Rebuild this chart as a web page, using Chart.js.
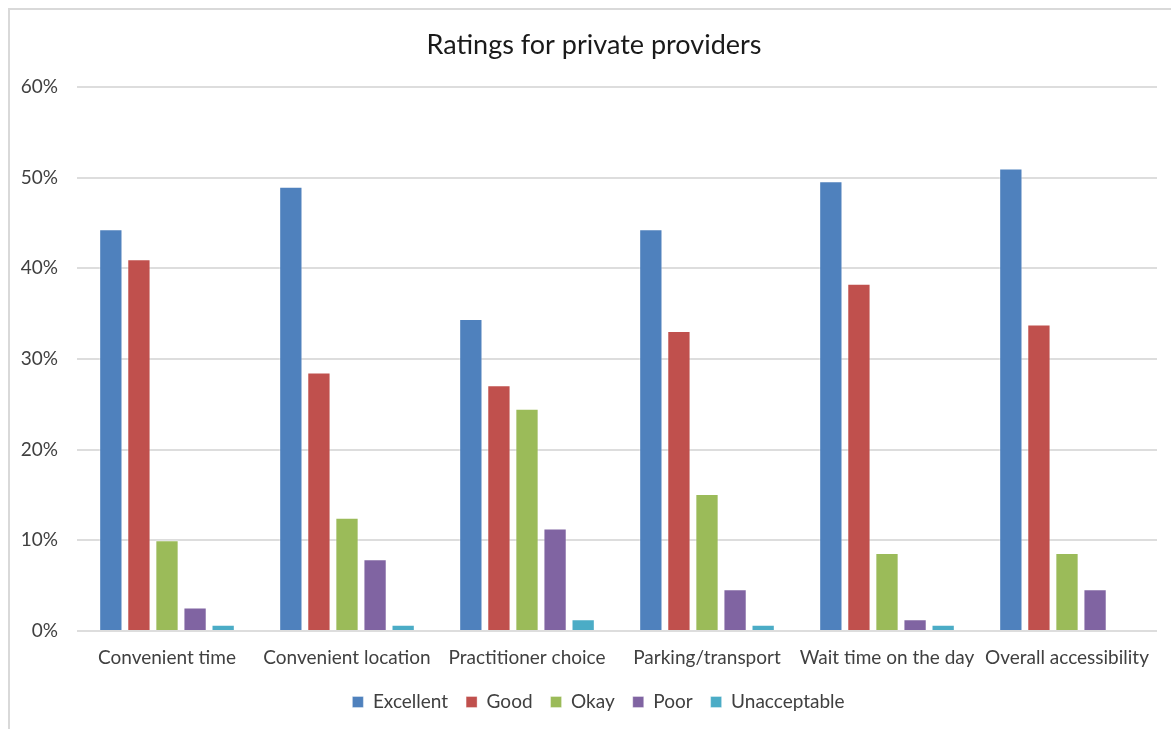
<!DOCTYPE html>
<html>
<head>
<meta charset="utf-8">
<title>Ratings for private providers</title>
<script src="https://cdn.jsdelivr.net/npm/chart.js@4/dist/chart.umd.min.js"></script>
<style>
    html, body { margin: 0; padding: 0; background: #fff; overflow: hidden; }
    #frame {
        position: absolute;
        left: 8px; top: 8px;
        width: 1300px; height: 800px;
        border: 2px solid #d9d9d9;
        box-sizing: border-box;
    }
    #wrap { position: absolute; left: 0; top: 0; width: 1171px; height: 729px; }
</style>
</head>
<body>
<div id="frame"></div>
<div id="wrap"><canvas id="ratingsChart" width="1171" height="729"></canvas></div>
<script>
// Aspects rated
const categories = [
    "Convenient time", "Convenient location", "Practitioner choice",
    "Parking/transport", "Wait time on the day", "Overall accessibility"
];

// Share of respondents (%) per rating
const excellent    = [44.3, 49.0, 34.4, 44.3, 49.6, 51.0];
const good         = [41.0, 28.5, 27.1, 33.1, 38.3, 33.8];
const okay         = [10.0, 12.5, 24.5, 15.1, 8.6, 8.6];
const poor         = [2.6, 7.9, 11.3, 4.6, 1.3, 4.6];
const unacceptable = [0.7, 0.7, 1.3, 0.7, 0.7, 0];

const yTicks = [0, 10, 20, 30, 40, 50, 60];

const chartTitle = "Ratings for private providers";
const textColor = "#404040";
const fontFamily = "Lato, 'Liberation Sans', sans-serif";

function series(label, data, color) {
    return {
        label: label,
        data: data,
        backgroundColor: color,
        borderColor: "rgba(255,255,255,0.35)",
        borderWidth: 1,
        barPercentage: 0.83,
        categoryPercentage: 0.78
    };
}

// Title and legend are centred on the whole frame rather than the plot
const frameCentering = {
    id: "frameCentering",
    afterLayout(chart) {
        chart.legend.left = 40;
    },
    afterDraw(chart) {
        const c = chart.ctx;
        c.save();
        c.font = "27px " + fontFamily;
        c.fillStyle = "#1a1a1a";
        c.textAlign = "center";
        c.textBaseline = "middle";
        c.fillText(chartTitle, 594, 45);
        c.restore();
    }
};

const ctx = document.getElementById("ratingsChart").getContext("2d");
new Chart(ctx, {
    type: "bar",
    data: {
        labels: categories,
        datasets: [
            series("Excellent", excellent, "#4F81BD"),
            series("Good", good, "#C0504D"),
            series("Okay", okay, "#9BBB59"),
            series("Poor", poor, "#8064A2"),
            series("Unacceptable", unacceptable, "#4BACC6")
        ]
    },
    plugins: [frameCentering],
    options: {
        responsive: false,
        animation: false,
        layout: { padding: { left: 0, right: 14, top: 87, bottom: 7.5 } },
        scales: {
            x: {
                afterFit: function (scale) { scale.height = 43.5; },
                grid: { display: false, drawTicks: false },
                border: { display: false },
                ticks: {
                    color: textColor,
                    font: { family: fontFamily, size: 19 },
                    padding: 15.6,
                    maxRotation: 0,
                    autoSkip: false
                }
            },
            y: {
                min: 0,
                max: 60,
                afterBuildTicks: function (scale) {
                    scale.ticks = yTicks.map(v => ({ value: v }));
                },
                afterFit: function (scale) { scale.width = 77; },
                grid: { color: "#dddddd", lineWidth: 2, drawTicks: false },
                border: { display: false },
                ticks: {
                    color: textColor,
                    font: { family: fontFamily, size: 19 },
                    padding: 19,
                    callback: v => v + "%"
                }
            }
        },
        plugins: {
            title: { display: false },
            legend: {
                position: "bottom",
                labels: {
                    color: textColor,
                    font: { family: fontFamily, size: 19 },
                    boxWidth: 11,
                    boxHeight: 11,
                    padding: 18
                }
            },
            tooltip: { enabled: false }
        }
    }
});
</script>
</body>
</html>
